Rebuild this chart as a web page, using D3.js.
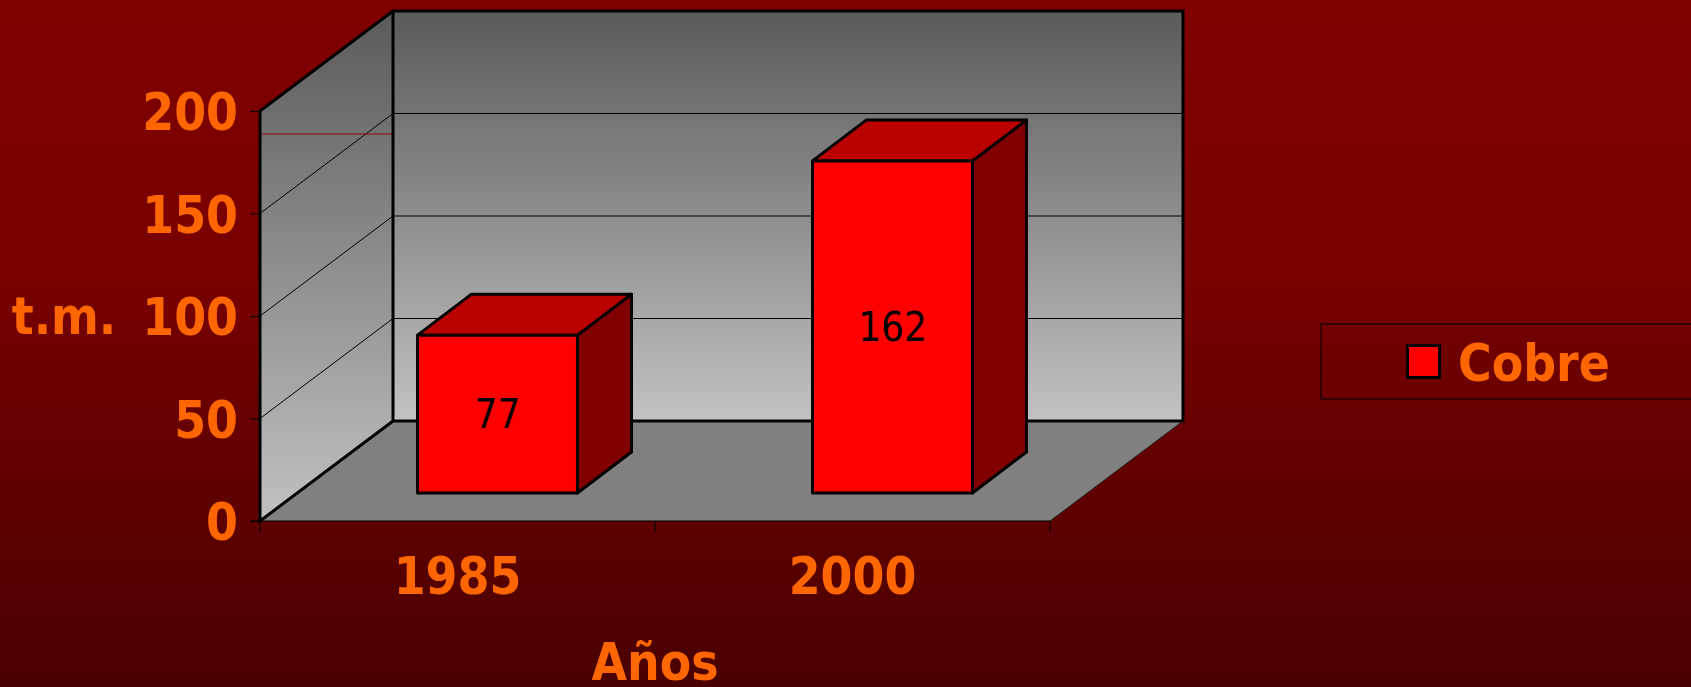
<!DOCTYPE html>
<html>
<head>
<meta charset="utf-8">
<script src="https://cdn.jsdelivr.net/npm/d3@7"></script>
<style>
  html, body { margin: 0; padding: 0; background: #600000; }
  svg { display: block; }
  .lbl { font-family: "DejaVu Sans Condensed", "DejaVu Sans", sans-serif; font-weight: bold; fill: #ff6600; font-size: 51px; }
</style>
</head>
<body>
<div id="chart"></div>
<script>
// data
const categories = ['1985', '2000'];
const cobre = [77, 162];
const yTicks = [0, 50, 100, 150, 200];
const seriesName = 'Cobre';

const width = 1691;
const height = 687;

// oblique 3d: shift of the back plane relative to the front plane
const depth = { dx: 133, dy: -100 };
// bar front face sits a bit into the floor, bars have their own depth
const barOff = { dx: 40, dy: -28 };
const barDepth = { dx: 54, dy: -41 };

const svg = d3.select('#chart')
  .append('svg')
  .attr('width', width)
  .attr('height', height);

const defs = svg.append('defs');

const bg = defs.append('linearGradient')
  .attr('id', 'bg')
  .attr('x1', 0).attr('y1', 0).attr('x2', 0).attr('y2', 1);
bg.append('stop').attr('offset', 0).attr('stop-color', '#800000');
bg.append('stop').attr('offset', 0.4).attr('stop-color', '#780000');
bg.append('stop').attr('offset', 1).attr('stop-color', '#4a0000');

const wall = defs.append('linearGradient')
  .attr('id', 'wall')
  .attr('x1', 0).attr('y1', 0).attr('x2', 0).attr('y2', 1);
wall.append('stop').attr('offset', 0).attr('stop-color', '#5a5a5a');
wall.append('stop').attr('offset', 1).attr('stop-color', '#c2c2c2');

svg.append('rect')
  .attr('width', width)
  .attr('height', height)
  .attr('fill', 'url(#bg)');

const x = d3.scaleBand()
  .domain(categories)
  .range([260, 1050]);

const y = d3.scaleLinear()
  .domain([0, 200])
  .range([521, 111]);

const x0 = x.range()[0];
const x1 = x.range()[1];
const y0 = y(0);
const yTop = y(200);

const pts = p => p.map(d => d.join(',')).join(' ');

// floor
svg.append('polygon')
  .attr('points', pts([[x0, y0], [x1, y0], [x1 + depth.dx, y0 + depth.dy], [x0 + depth.dx, y0 + depth.dy]]))
  .attr('fill', '#808080');

svg.append('line')
  .attr('x1', x1).attr('y1', y0)
  .attr('x2', x1 + depth.dx).attr('y2', y0 + depth.dy)
  .attr('stroke', '#222')
  .attr('stroke-width', 1);

// back wall
svg.append('rect')
  .attr('x', x0 + depth.dx)
  .attr('y', yTop + depth.dy)
  .attr('width', x1 - x0)
  .attr('height', y0 - yTop)
  .attr('fill', 'url(#wall)');

// left wall
svg.append('polygon')
  .attr('points', pts([[x0, y0], [x0, yTop], [x0 + depth.dx, yTop + depth.dy], [x0 + depth.dx, y0 + depth.dy]]))
  .attr('fill', 'url(#wall)');

// gridlines
const grid = svg.append('g').attr('stroke', '#000').attr('stroke-width', 1);
grid.selectAll('.gb')
  .data(yTicks.filter(d => d > 0))
  .enter()
  .append('line')
  .attr('x1', x0 + depth.dx)
  .attr('x2', x1 + depth.dx)
  .attr('y1', d => y(d) + depth.dy)
  .attr('y2', d => y(d) + depth.dy);
grid.selectAll('.gl')
  .data(yTicks.filter(d => d > 0 && d < 200))
  .enter()
  .append('line')
  .attr('x1', x0)
  .attr('y1', d => y(d))
  .attr('x2', x0 + depth.dx)
  .attr('y2', d => y(d) + depth.dy);

// stray red rule on the side wall
svg.append('line')
  .attr('x1', x0 + 1).attr('x2', x0 + depth.dx - 1)
  .attr('y1', 134).attr('y2', 134)
  .attr('stroke', '#a00000')
  .attr('stroke-width', 1);

// wall outlines
svg.append('path')
  .attr('d', `M${x0},${y0}V${yTop}L${x0 + depth.dx},${yTop + depth.dy}H${x1 + depth.dx}V${y0 + depth.dy}H${x0 + depth.dx}Z
    M${x0 + depth.dx},${yTop + depth.dy}V${y0 + depth.dy}L${x0},${y0}`)
  .attr('fill', 'none')
  .attr('stroke', '#000')
  .attr('stroke-width', 3)
  .attr('stroke-linejoin', 'miter');

// bars
const barW = x.bandwidth() * 0.405;
const bars = svg.selectAll('.bar')
  .data(categories.map((c, i) => ({ cat: c, value: cobre[i] })))
  .enter()
  .append('g')
  .attr('class', 'bar');

const bx = d => x(d.cat) + (x.bandwidth() - barW) / 2 + barOff.dx;
const bTop = d => y(d.value) + barOff.dy;
const bBot = y(0) + barOff.dy;

bars.append('polygon')
  .attr('points', d => pts([
    [bx(d) + barW, bBot], [bx(d) + barW, bTop(d)],
    [bx(d) + barW + barDepth.dx, bTop(d) + barDepth.dy], [bx(d) + barW + barDepth.dx, bBot + barDepth.dy]]))
  .attr('fill', '#800000');

bars.append('polygon')
  .attr('points', d => pts([
    [bx(d), bTop(d)], [bx(d) + barW, bTop(d)],
    [bx(d) + barW + barDepth.dx, bTop(d) + barDepth.dy], [bx(d) + barDepth.dx, bTop(d) + barDepth.dy]]))
  .attr('fill', '#bb0000');

bars.append('rect')
  .attr('x', d => bx(d))
  .attr('y', d => bTop(d))
  .attr('width', barW)
  .attr('height', d => bBot - bTop(d))
  .attr('fill', '#ff0000');

bars.selectAll('polygon, rect')
  .attr('stroke', '#000')
  .attr('stroke-width', 3)
  .attr('stroke-linejoin', 'round');

bars.append('text')
  .attr('x', d => bx(d) + barW / 2)
  .attr('y', d => (bTop(d) + bBot) / 2)
  .attr('dy', '0.36em')
  .attr('text-anchor', 'middle')
  .style('font-family', '"DejaVu Sans Condensed", "DejaVu Sans", sans-serif')
  .style('font-size', '40px')
  .attr('fill', '#000')
  .text(d => d.value);

// y axis
const yAxis = d3.axisLeft(y)
  .tickValues(yTicks)
  .tickSize(10)
  .tickSizeOuter(0)
  .tickPadding(12);

const gy = svg.append('g')
  .attr('transform', `translate(${x0},0)`)
  .call(yAxis);
gy.select('.domain').remove();
gy.selectAll('line').attr('stroke', '#000');
gy.selectAll('text')
  .attr('class', 'lbl')
  .attr('font-family', null)
  .attr('font-size', null)
  .attr('fill', null)
  .attr('dy', '0.37em');

// x axis
const xAxis = d3.axisBottom(x)
  .tickSize(0)
  .tickSizeOuter(0)
  .tickPadding(37);

const gx = svg.append('g')
  .attr('transform', `translate(0,${y0})`)
  .call(xAxis);
gx.select('.domain').attr('stroke', '#000').attr('d', `M${x0 - 10},0H${x1}`);
gx.selectAll('text')
  .attr('class', 'lbl')
  .attr('font-family', null)
  .attr('font-size', null)
  .attr('fill', null);

gx.selectAll('.bound')
  .data(categories.map(c => x(c)).concat([x1]))
  .enter()
  .append('line')
  .attr('x1', d => d).attr('x2', d => d)
  .attr('y1', 0).attr('y2', 11)
  .attr('stroke', '#000');

// axis titles
svg.append('text')
  .attr('class', 'lbl')
  .attr('x', 64)
  .attr('y', 334)
  .attr('text-anchor', 'middle')
  .text('t.m.');

svg.append('text')
  .attr('class', 'lbl')
  .attr('x', (x0 + x1) / 2)
  .attr('y', 680)
  .attr('text-anchor', 'middle')
  .text('Años');

// legend
const legend = svg.append('g');
legend.append('rect')
  .attr('x', 1321)
  .attr('y', 324)
  .attr('width', 420)
  .attr('height', 75)
  .attr('fill', 'none')
  .attr('stroke', '#000')
  .attr('stroke-width', 1);
legend.append('rect')
  .attr('x', 1407.5)
  .attr('y', 345.5)
  .attr('width', 32)
  .attr('height', 32)
  .attr('fill', '#ff0000')
  .attr('stroke', '#000')
  .attr('stroke-width', 3);
legend.append('text')
  .attr('class', 'lbl')
  .attr('x', 1458)
  .attr('y', 381)
  .text(seriesName);
</script>
</body>
</html>
